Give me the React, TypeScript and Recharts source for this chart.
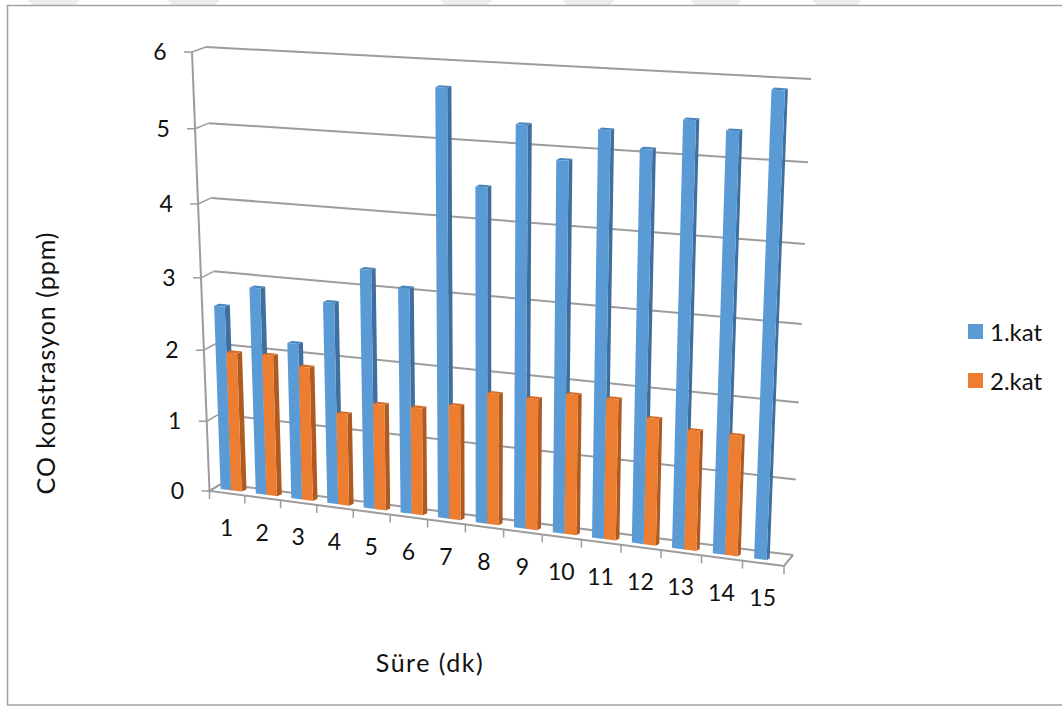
import { Bar, BarChart, CartesianGrid, Legend, XAxis, YAxis } from "recharts";

const minutes = ["1", "2", "3", "4", "5", "6", "7", "8", "9", "10", "11", "12", "13", "14", "15"];
const floor1 = [2.59, 2.89, 2.18, 2.79, 3.28, 3.08, 5.7, 4.48, 5.3, 4.89, 5.3, 5.1, 5.49, 5.39, 5.91];
const floor2 = [1.96, 1.98, 1.87, 1.28, 1.47, 1.48, 1.57, 1.79, 1.78, 1.89, 1.89, 1.69, 1.59, 1.59, null];
const valueTicks = [0, 1, 2, 3, 4, 5, 6];
const bandsX = [[27, 80], [167, 220], [440, 493], [562, 615], [690, 742], [812, 862]];

const chartData = minutes.map((m, i) => ({ minute: m, kat1: floor1[i], kat2: floor2[i] }));

// flat plot rectangle that recharts lays out; every mark is then projected from it
const PLOT = { left: 200, top: 50, width: 600, height: 500 };

type Pt = [number, number];

// unit square -> quadrilateral (bl, br, tr, tl), u to the right and v upwards
function makeQuad(p0: Pt, p1: Pt, p2: Pt, p3: Pt) {
  const dx1 = p1[0] - p2[0];
  const dx2 = p3[0] - p2[0];
  const sx = p0[0] - p1[0] + p2[0] - p3[0];
  const dy1 = p1[1] - p2[1];
  const dy2 = p3[1] - p2[1];
  const sy = p0[1] - p1[1] + p2[1] - p3[1];
  const den = dx1 * dy2 - dx2 * dy1;
  const g = (sx * dy2 - dx2 * sy) / den;
  const h = (dx1 * sy - sx * dy1) / den;
  const a = p1[0] - p0[0] + g * p1[0];
  const b = p3[0] - p0[0] + h * p3[0];
  const d = p1[1] - p0[1] + g * p1[1];
  const e = p3[1] - p0[1] + h * p3[1];
  return (u: number, v: number): Pt => {
    const w = g * u + h * v + 1;
    return [(a * u + b * v + p0[0]) / w, (d * u + e * v + p0[1]) / w];
  };
}

const backWall = makeQuad([221, 484], [793, 555], [811, 79], [206, 47]);
const barPlane = makeQuad([214, 488], [788, 563], [808, 84], [198, 50]);
const frontPlane = makeQuad([209.5, 491], [784, 566], [802, 90], [192, 52]);

const toU = (x: number) => (x - PLOT.left) / PLOT.width;
const toV = (y: number) => (PLOT.top + PLOT.height - y) / PLOT.height;

const LINE = "#9c9c9c";

const pts = (list: Pt[]) => list.map((p) => `${p[0].toFixed(1)},${p[1].toFixed(1)}`).join(" ");

function GridLine(props: any) {
  const v = toV(props.y1);
  const a = backWall(0, v);
  const b = backWall(1, v);
  return <line key={props.key} x1={a[0]} y1={a[1]} x2={b[0]} y2={b[1]} stroke={LINE} strokeWidth={2} />;
}

// 3D box: front face from the bar scale, plus right side and top cap
function BoxBar({ x, y, width, height, fill, side, cap }: any) {
  if (!height) return null;
  const u0 = toU(x);
  const u1 = toU(x + width);
  const vt = toV(y);
  const vb = toV(y + height);
  const bl = barPlane(u0, vb);
  const br = barPlane(u1, vb);
  const tr = barPlane(u1, vt);
  const tl = barPlane(u0, vt);
  const dx = 5 - 2 * u1;
  const dy = -2;
  const shift = (p: Pt): Pt => [p[0] + dx, p[1] + dy];
  return (
    <g>
      <polygon points={pts([br, shift(br), shift(tr), tr])} fill={side} />
      <polygon points={pts([tl, tr, shift(tr), shift(tl)])} fill={cap} />
      <polygon points={pts([bl, br, tr, tl])} fill={fill} />
    </g>
  );
}

function ValueTick({ y, payload }: any) {
  const v = toV(y);
  const front = frontPlane(0, v);
  const back = backWall(0, v);
  return (
    <g>
      <line x1={front[0] - 8} y1={front[1]} x2={front[0]} y2={front[1]} stroke={LINE} strokeWidth={1.5} />
      <line x1={front[0]} y1={front[1]} x2={back[0]} y2={back[1]} stroke={LINE} strokeWidth={1.5} />
      <text x={front[0] - 32} y={front[1] + 2} textAnchor="middle" dominantBaseline="middle" fontSize={23} fill="#111">
        {payload.value}
      </text>
    </g>
  );
}

function MinuteTick({ x, payload }: any) {
  const p = frontPlane(toU(x), 0);
  return (
    <text x={p[0] - 0.5} y={p[1] + 37} textAnchor="middle" dominantBaseline="middle" fontSize={23} fill="#111">
      {payload.value}
    </text>
  );
}

// left wall edge, floor outline and the tick marks along the front of the floor
function Frame() {
  const topFront = frontPlane(0, 1);
  const floorA = frontPlane(0, 0);
  const floorB = frontPlane(1, 0);
  const backB = backWall(1, 0);
  const backA = backWall(0, 0);
  return (
    <g stroke={LINE} fill="none">
      <line x1={topFront[0]} y1={topFront[1]} x2={floorA[0]} y2={floorA[1]} strokeWidth={2} />
      <polyline points={pts([backA, floorA, floorB, backB])} strokeWidth={2} />
      {[...minutes, ""].map((_, i) => {
        const p = frontPlane(i / minutes.length, 0);
        return <line key={i} x1={p[0]} y1={p[1]} x2={p[0]} y2={p[1] + 8} strokeWidth={1.5} />;
      })}
    </g>
  );
}

function KatLegend({ payload }: any) {
  return (
    <div style={{ fontFamily: "Lato", fontSize: 24, color: "#111" }}>
      {(payload || []).map((item: any) => (
        <div key={item.value} style={{ display: "flex", alignItems: "center", height: 49 }}>
          <span style={{ width: 15, height: 15, background: item.color, marginRight: 7 }} />
          {item.value}
        </div>
      ))}
    </div>
  );
}

export default function App() {
  return (
    <div style={{ position: "absolute", left: 0, top: 0, width: 1062, height: 706, background: "#fff", overflow: "hidden" }}>
      <svg width={1062} height={706} style={{ position: "absolute", left: 0, top: 0 }}>
        {bandsX.map(([a, b]) => (
          <polygon key={a} points={`${a},0 ${b},0 ${b - 6},5 ${a + 6},5`} fill="#ececec" />
        ))}
        <polyline points="1062,5.5 7.5,5.5 7.5,705 1062,705" fill="none" stroke="#a3a3a3" strokeWidth={1.5} />
      </svg>
      <BarChart
        width={1062}
        height={706}
        data={chartData}
        margin={{ top: PLOT.top, left: PLOT.left - 40, right: 1062 - PLOT.left - PLOT.width, bottom: 706 - PLOT.top - PLOT.height - 40 }}
        barCategoryGap="19%"
        barGap={0}
        style={{ fontFamily: "Lato" }}
      >
        <Frame />
        <CartesianGrid vertical={false} horizontal={GridLine} />
        <XAxis dataKey="minute" axisLine={false} tickLine={false} height={40} tick={MinuteTick} interval={0} />
        <YAxis domain={[0, 6]} ticks={valueTicks} axisLine={false} tickLine={false} width={40} tick={ValueTick} />
        <Legend
          layout="vertical"
          verticalAlign="middle"
          align="center"
          content={KatLegend}
          wrapperStyle={{ left: 968, top: 307, width: 90, height: 98 }}
        />
        <Bar dataKey="kat1" name="1.kat" fill="#5b9bd5" isAnimationActive={false} shape={(p: any) => <BoxBar {...p} side="#3f6f9e" cap="#4a86bd" />} />
        <Bar dataKey="kat2" name="2.kat" fill="#ed7d31" isAnimationActive={false} shape={(p: any) => <BoxBar {...p} side="#ae5a21" cap="#d76f2a" />} />
      </BarChart>
      <svg width={1062} height={706} style={{ position: "absolute", left: 0, top: 0, pointerEvents: "none" }}>
        <text x={430} y={666} textAnchor="middle" dominantBaseline="middle" fontFamily="Lato" fontSize={25} letterSpacing={1.5} fill="#111">Süre (dk)</text>
        <text transform="translate(49,363) rotate(-90)" textAnchor="middle" dominantBaseline="middle" fontFamily="Lato" fontSize={25} letterSpacing={1} fill="#111">CO konstrasyon (ppm)</text>
      </svg>
    </div>
  );
}
